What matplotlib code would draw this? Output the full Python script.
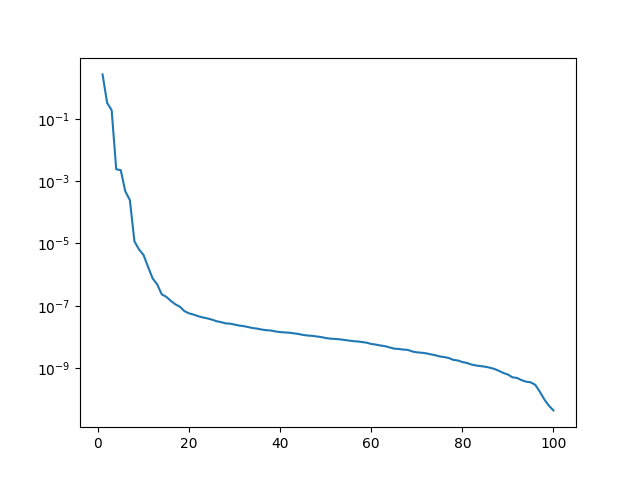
import numpy as np
import matplotlib
matplotlib.use("Agg")
import matplotlib.pyplot as plt

index = list(range(1, 101))
log10_values = [
    0.42, -0.49, -0.73, -2.62, -2.65, -3.33, -3.61, -4.93, -5.19, -5.37,
    -5.75, -6.12, -6.31, -6.63, -6.71, -6.84, -6.95, -7.03, -7.17, -7.24,
    -7.28, -7.33, -7.37, -7.40, -7.44, -7.49, -7.52, -7.56, -7.57, -7.60,
    -7.63, -7.65, -7.68, -7.71, -7.73, -7.76, -7.78, -7.79, -7.82, -7.84,
    -7.85, -7.86, -7.88, -7.90, -7.93, -7.95, -7.96, -7.98, -8.00, -8.03,
    -8.05, -8.06, -8.07, -8.09, -8.11, -8.13, -8.14, -8.16, -8.18, -8.22,
    -8.24, -8.27, -8.29, -8.33, -8.37, -8.38, -8.40, -8.41, -8.46, -8.49,
    -8.50, -8.52, -8.55, -8.58, -8.62, -8.64, -8.67, -8.73, -8.75, -8.80,
    -8.83, -8.88, -8.91, -8.93, -8.95, -8.98, -9.02, -9.08, -9.15, -9.20,
    -9.29, -9.31, -9.38, -9.43, -9.45, -9.53, -9.75, -10.00, -10.20, -10.35,
]
values = [10 ** v for v in log10_values]

fig, ax = plt.subplots(figsize=(6.4, 4.8), dpi=100)
ax.semilogy(index, values)
fig.savefig("out.png")
